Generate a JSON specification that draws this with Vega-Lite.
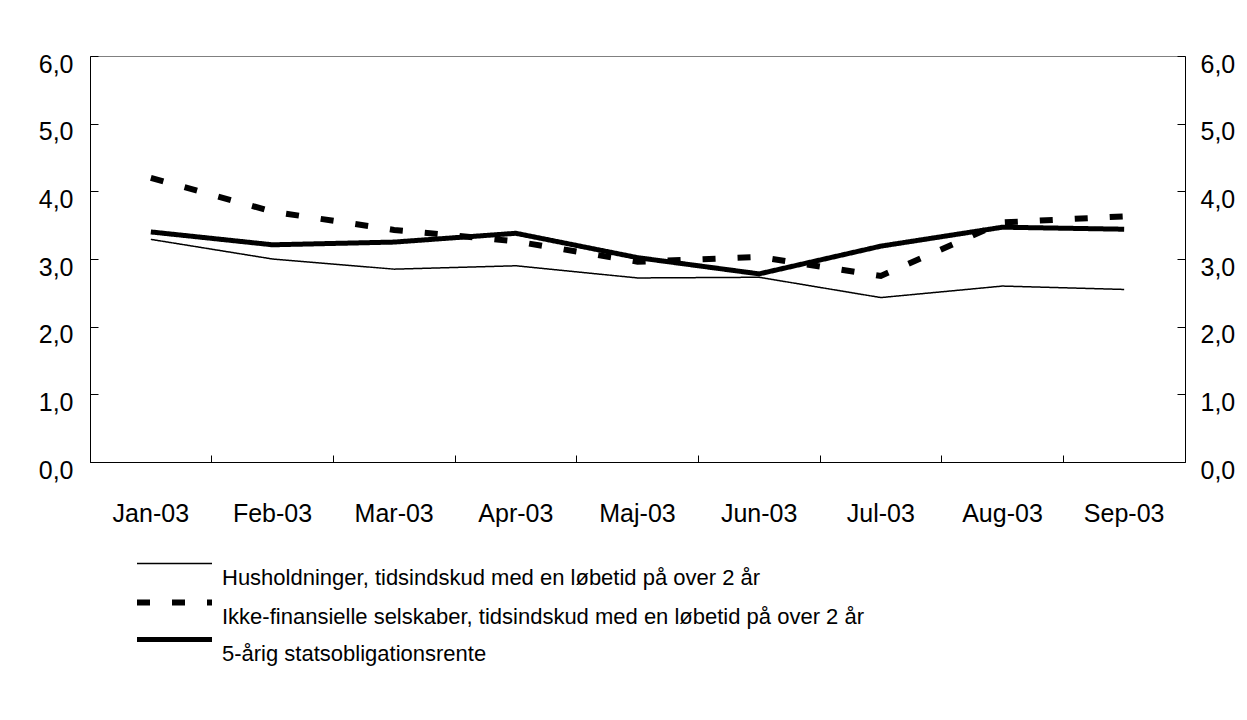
{
  "$schema": "https://vega.github.io/schema/vega-lite/v6.json",
  "width": 1095,
  "height": 406,
  "autosize": {"type": "none"},
  "padding": {"left": 90, "top": 56, "right": 62, "bottom": 258},
  "background": "white",
  "config": {
    "view": {"stroke": "#808080", "strokeWidth": 1},
    "font": "Liberation Sans",
    "axis": {"labelFont": "Liberation Sans", "labelColor": "black", "domainColor": "black", "tickColor": "black", "grid": false, "title": null}
  },
  "data": {
    "values": [
      {"month": "Jan-03", "series": "Husholdninger, tidsindskud med en løbetid på over 2 år", "value": 3.29},
      {"month": "Feb-03", "series": "Husholdninger, tidsindskud med en løbetid på over 2 år", "value": 3.00},
      {"month": "Mar-03", "series": "Husholdninger, tidsindskud med en løbetid på over 2 år", "value": 2.85},
      {"month": "Apr-03", "series": "Husholdninger, tidsindskud med en løbetid på over 2 år", "value": 2.90},
      {"month": "Maj-03", "series": "Husholdninger, tidsindskud med en løbetid på over 2 år", "value": 2.72},
      {"month": "Jun-03", "series": "Husholdninger, tidsindskud med en løbetid på over 2 år", "value": 2.73},
      {"month": "Jul-03", "series": "Husholdninger, tidsindskud med en løbetid på over 2 år", "value": 2.43},
      {"month": "Aug-03", "series": "Husholdninger, tidsindskud med en løbetid på over 2 år", "value": 2.60},
      {"month": "Sep-03", "series": "Husholdninger, tidsindskud med en løbetid på over 2 år", "value": 2.55},
      {"month": "Jan-03", "series": "Ikke-finansielle selskaber, tidsindskud med en løbetid på over 2 år", "value": 4.20},
      {"month": "Feb-03", "series": "Ikke-finansielle selskaber, tidsindskud med en løbetid på over 2 år", "value": 3.70},
      {"month": "Mar-03", "series": "Ikke-finansielle selskaber, tidsindskud med en løbetid på over 2 år", "value": 3.43},
      {"month": "Apr-03", "series": "Ikke-finansielle selskaber, tidsindskud med en løbetid på over 2 år", "value": 3.26},
      {"month": "Maj-03", "series": "Ikke-finansielle selskaber, tidsindskud med en løbetid på over 2 år", "value": 2.96},
      {"month": "Jun-03", "series": "Ikke-finansielle selskaber, tidsindskud med en løbetid på over 2 år", "value": 3.03},
      {"month": "Jul-03", "series": "Ikke-finansielle selskaber, tidsindskud med en løbetid på over 2 år", "value": 2.75},
      {"month": "Aug-03", "series": "Ikke-finansielle selskaber, tidsindskud med en løbetid på over 2 år", "value": 3.54},
      {"month": "Sep-03", "series": "Ikke-finansielle selskaber, tidsindskud med en løbetid på over 2 år", "value": 3.63},
      {"month": "Jan-03", "series": "5-årig statsobligationsrente", "value": 3.40},
      {"month": "Feb-03", "series": "5-årig statsobligationsrente", "value": 3.21},
      {"month": "Mar-03", "series": "5-årig statsobligationsrente", "value": 3.25},
      {"month": "Apr-03", "series": "5-årig statsobligationsrente", "value": 3.38},
      {"month": "Maj-03", "series": "5-årig statsobligationsrente", "value": 3.02},
      {"month": "Jun-03", "series": "5-årig statsobligationsrente", "value": 2.78},
      {"month": "Jul-03", "series": "5-årig statsobligationsrente", "value": 3.19},
      {"month": "Aug-03", "series": "5-årig statsobligationsrente", "value": 3.47},
      {"month": "Sep-03", "series": "5-årig statsobligationsrente", "value": 3.44}
    ]
  },
  "layer": [
    {
      "mark": {"type": "line", "color": "black", "strokeCap": "butt"},
      "encoding": {
        "x": {
          "field": "month", "type": "nominal",
          "sort": ["Jan-03", "Feb-03", "Mar-03", "Apr-03", "Maj-03", "Jun-03", "Jul-03", "Aug-03", "Sep-03"],
          "scale": {"type": "band", "paddingInner": 0, "paddingOuter": 0},
          "axis": {"orient": "bottom", "labelAngle": 0, "labelFontSize": 25, "tickSize": -7, "bandPosition": 0, "labelPadding": 46, "domainWidth": 1, "tickWidth": 1}
        },
        "y": {
          "field": "value", "type": "quantitative",
          "scale": {"domain": [0, 6], "nice": false, "zero": true},
          "axis": {"orient": "left", "values": [0, 1, 2, 3, 4, 5, 6], "labelExpr": "replace(format(datum.value, '.1f'), '.', ',')", "labelFontSize": 25, "tickSize": -8, "labelPadding": 25, "labelOffset": 8, "domainWidth": 1, "tickWidth": 1}
        },
        "strokeDash": {
          "field": "series", "type": "nominal",
          "scale": {
            "domain": ["Husholdninger, tidsindskud med en løbetid på over 2 år", "Ikke-finansielle selskaber, tidsindskud med en løbetid på over 2 år", "5-årig statsobligationsrente"],
            "range": [[1, 0], [13, 22], [1, 0]]
          },
          "legend": {
            "orient": "none", "legendX": 73.5, "legendY": 510.5, "title": null, "padding": 0,
            "labelFont": "Liberation Sans", "labelFontSize": 22, "labelColor": "black", "labelLimit": 1000,
            "symbolType": "M-9.375,-3.5L9.375,-3.5", "symbolSize": 64, "symbolStrokeColor": "black",
            "rowPadding": 2, "labelOffset": 36.5, "symbolOffset": 0
          }
        },
        "strokeWidth": {
          "field": "series", "type": "nominal",
          "scale": {
            "type": "ordinal",
            "domain": ["Husholdninger, tidsindskud med en løbetid på over 2 år", "Ikke-finansielle selskaber, tidsindskud med en løbetid på over 2 år", "5-årig statsobligationsrente"],
            "range": [1.5, 6, 5]
          },
          "legend": {
            "orient": "none", "legendX": 73.5, "legendY": 510.5, "title": null, "padding": 0,
            "labelFont": "Liberation Sans", "labelFontSize": 22, "labelColor": "black", "labelLimit": 1000,
            "symbolType": "M-9.375,-3.5L9.375,-3.5", "symbolSize": 64, "symbolStrokeColor": "black",
            "rowPadding": 2, "labelOffset": 36.5, "symbolOffset": 0
          }
        }
      }
    },
    {
      "mark": {"type": "line", "opacity": 0},
      "encoding": {
        "x": {"field": "month", "type": "nominal", "sort": ["Jan-03", "Feb-03", "Mar-03", "Apr-03", "Maj-03", "Jun-03", "Jul-03", "Aug-03", "Sep-03"]},
        "y": {
          "field": "value", "type": "quantitative",
          "axis": {"orient": "right", "values": [0, 1, 2, 3, 4, 5, 6], "labelExpr": "replace(format(datum.value, '.1f'), '.', ',')", "labelFontSize": 25, "tickSize": -8, "labelPadding": 23, "labelOffset": 8, "domainWidth": 1, "tickWidth": 1}
        },
        "detail": {"field": "series"}
      }
    }
  ],
  "resolve": {"scale": {"y": "shared"}, "axis": {"y": "independent"}}
}
